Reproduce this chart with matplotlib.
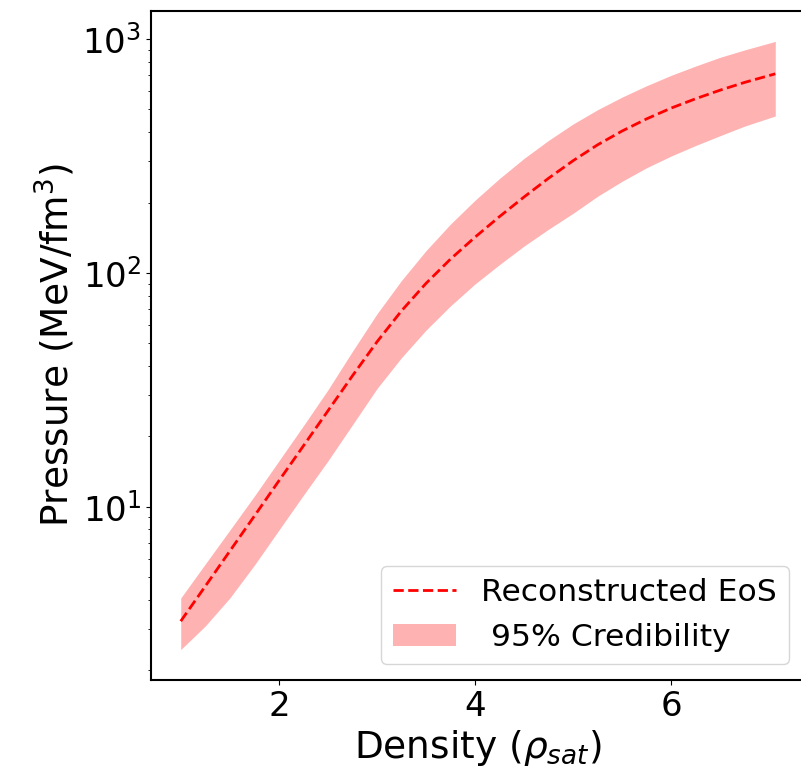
import numpy as np
import matplotlib
matplotlib.use("Agg")
import matplotlib.pyplot as plt

# Reconstructed equation of state with its 95% credible band
density = [1.0, 1.25, 1.5, 1.75, 2.0, 2.25, 2.5, 2.75, 3.0, 3.25, 3.5, 3.75, 4.0,
           4.25, 4.5, 4.75, 5.0, 5.25, 5.5, 5.75, 6.0, 6.25, 6.5, 6.75, 7.06]
pressure_mid = [3.24, 4.57, 6.46, 9.12, 12.9, 18.2, 25.7, 36.3, 50.7, 68.8, 90.2,
                114.6, 142.2, 174.2, 211.3, 254.1, 302, 353.2, 404.6, 456, 507,
                556, 605, 653, 710]
pressure_hi = [4.07, 5.69, 7.94, 11.1, 15.7, 22.2, 31.6, 46.2, 66.8, 92.8, 124.5,
               161.8, 204.6, 253.5, 309, 369, 433.5, 499, 565, 632, 700, 767, 836,
               899, 977]
pressure_lo = [2.45, 3.09, 4.07, 5.62, 7.94, 11.2, 15.7, 22.4, 32.0, 43.4, 56.9,
               72.3, 89.7, 108.6, 130.3, 153.8, 179.9, 212.8, 246.6, 281.8, 316.2,
               350.8, 386.4, 424.6, 468.8]

fig = plt.figure(figsize=(8.01, 7.80), dpi=100)
ax = fig.add_axes([151 / 801, 100 / 780, 654 / 801, 669 / 780])

ax.plot(density, pressure_mid, "--", color="red", lw=2, label="Reconstructed EoS")
ax.fill_between(density, pressure_lo, pressure_hi, color="red", alpha=0.3,
                lw=0, label=" 95% Credibility")
ax.set_yscale("log")

ax.set_xlabel(r"Density ($\rho_{sat}$)", fontsize=27)
ax.set_ylabel(r"Pressure (MeV/fm$^3$)", fontsize=27)
ax.tick_params(axis="both", which="major", labelsize=24.5)
for s in ax.spines.values():
    s.set_linewidth(1.5)

ax.legend(loc="lower right", fontsize=22.6)

fig.savefig("out.png", dpi=100)
